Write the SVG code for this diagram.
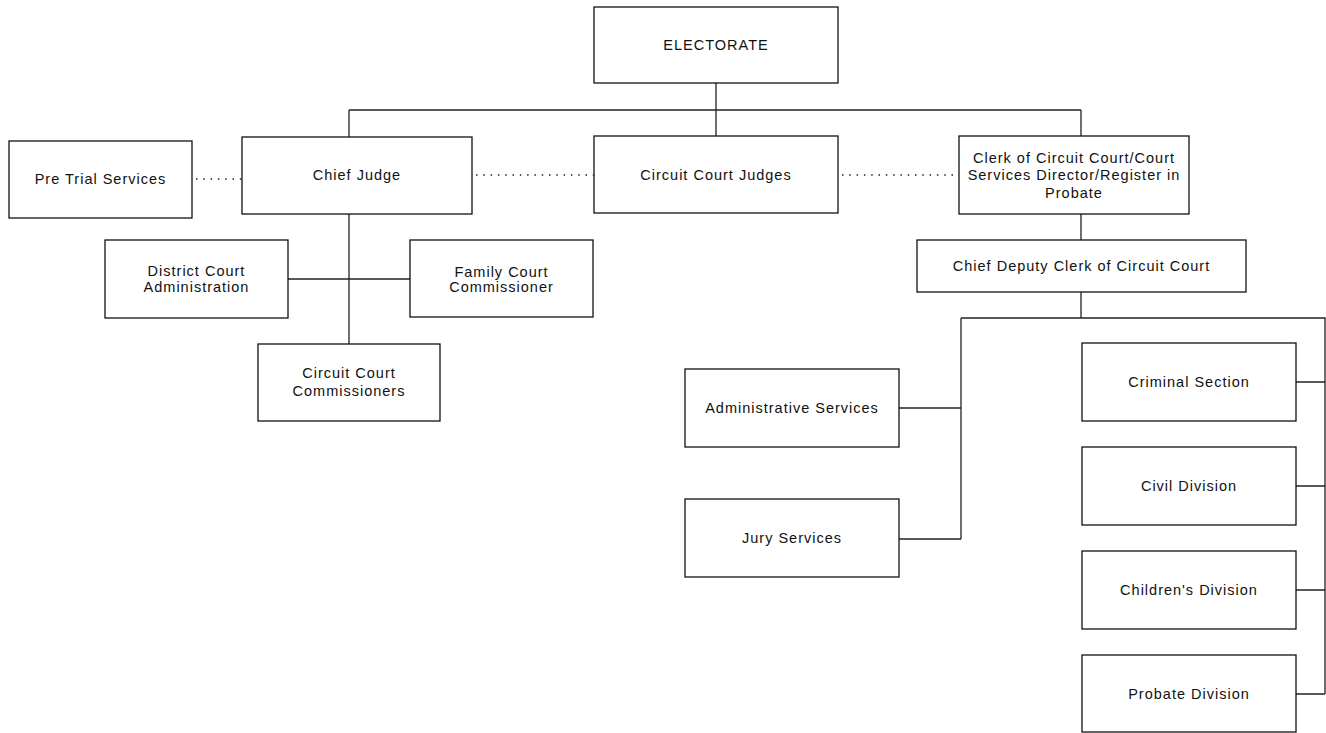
<svg xmlns="http://www.w3.org/2000/svg" width="1326" height="733" viewBox="0 0 1326 733">
<style>
.box{fill:#fff;stroke:#111;stroke-width:1.3}
.t{font-family:"Liberation Sans",Arial,sans-serif;font-size:14.5px;letter-spacing:1px;fill:#111;text-anchor:middle}
.ln{fill:none;stroke:#222;stroke-width:1.3}
.dot{fill:none;stroke:#222;stroke-width:1.3;stroke-dasharray:1.5 5.8}
</style>
<rect width="1326" height="733" fill="#fff"/>
<g id="connectors">
<path class="ln" d="M716 83V110M349 110H1081M349 110V137M716 110V136M1081 110V136"/>
<path class="ln" d="M349 214V344M288 279H410"/>
<path class="ln" d="M1081 214V240M1081 292V318M961 318H1325V694M961 318V539M899 408H961M899 539H961"/>
<path class="ln" d="M1296 382H1325M1296 486H1325M1296 590H1325M1296 694H1325"/>
<path class="dot" d="M196 179H242M476 175H594M842 175H959"/>
</g>
<g id="electorate"><rect class="box" x="594" y="7" width="244" height="76"/><text class="t" x="716" y="50">ELECTORATE</text></g>
<g id="pretrial"><rect class="box" x="9" y="141" width="183" height="77"/><text class="t" x="100.5" y="184">Pre Trial Services</text></g>
<g id="chiefjudge"><rect class="box" x="242" y="137" width="230" height="77"/><text class="t" x="357" y="180">Chief Judge</text></g>
<g id="circuitjudges"><rect class="box" x="594" y="136" width="244" height="77"/><text class="t" x="716" y="180">Circuit Court Judges</text></g>
<g id="clerk"><rect class="box" x="959" y="136" width="230" height="78"/><text class="t" x="1074" y="163">Clerk of Circuit Court/Court</text><text class="t" x="1074" y="180">Services Director/Register in</text><text class="t" x="1074" y="198">Probate</text></g>
<g id="district"><rect class="box" x="105" y="240" width="183" height="78"/><text class="t" x="196.5" y="276">District Court</text><text class="t" x="196.5" y="292">Administration</text></g>
<g id="family"><rect class="box" x="410" y="240" width="183" height="77"/><text class="t" x="501.5" y="277">Family Court</text><text class="t" x="501.5" y="292">Commissioner</text></g>
<g id="commissioners"><rect class="box" x="258" y="344" width="182" height="77"/><text class="t" x="349" y="378">Circuit Court</text><text class="t" x="349" y="396">Commissioners</text></g>
<g id="chiefdeputy"><rect class="box" x="917" y="240" width="329" height="52"/><text class="t" x="1081.5" y="271">Chief Deputy Clerk of Circuit Court</text></g>
<g id="admin"><rect class="box" x="685" y="369" width="214" height="78"/><text class="t" x="792" y="413">Administrative Services</text></g>
<g id="jury"><rect class="box" x="685" y="499" width="214" height="78"/><text class="t" x="792" y="543">Jury Services</text></g>
<g id="criminal"><rect class="box" x="1082" y="343" width="214" height="78"/><text class="t" x="1189" y="387">Criminal Section</text></g>
<g id="civil"><rect class="box" x="1082" y="447" width="214" height="78"/><text class="t" x="1189" y="491">Civil Division</text></g>
<g id="children"><rect class="box" x="1082" y="551" width="214" height="78"/><text class="t" x="1189" y="595">Children's Division</text></g>
<g id="probate"><rect class="box" x="1082" y="655" width="214" height="77"/><text class="t" x="1189" y="699">Probate Division</text></g>
</svg>
